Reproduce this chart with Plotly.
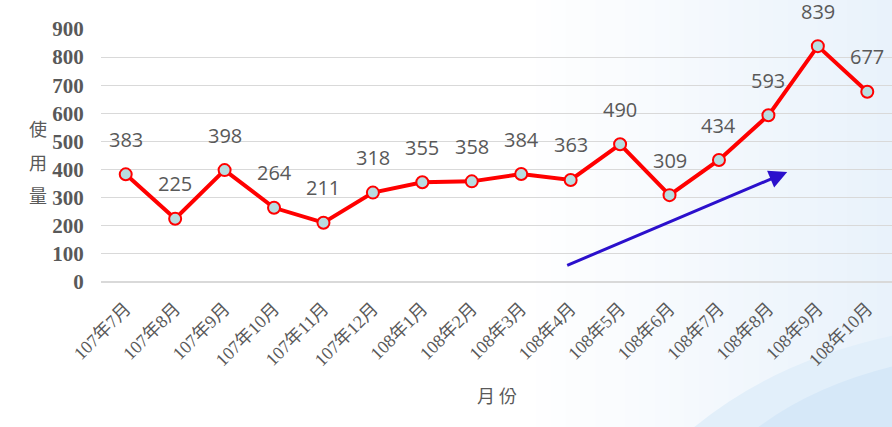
import plotly.graph_objects as go

months = ["107年7月", "107年8月", "107年9月", "107年10月", "107年11月", "107年12月",
          "108年1月", "108年2月", "108年3月", "108年4月", "108年5月", "108年6月",
          "108年7月", "108年8月", "108年9月", "108年10月"]
usage = [383, 225, 398, 264, 211, 318, 355, 358, 384, 363, 490, 309, 434, 593, 839, 677]
y_ticks = [0, 100, 200, 300, 400, 500, 600, 700, 800, 900]

fig = go.Figure()

# light blue wash toward the right edge (decorative background)
n = 24
for i in range(n):
    t = (i + 1) / n
    x0 = 0.55 + 0.45 * i / n
    r = int(round(255 - 22 * t))
    g = int(round(255 - 13 * t))
    b = int(round(255 - 4 * t))
    fig.add_shape(type="rect", xref="paper", yref="paper", x0=x0, x1=1.02,
                  y0=-0.6, y1=1.15, fillcolor=f"rgb({r},{g},{b})",
                  line_width=0, layer="below")
# swoosh in the lower right corner
fig.add_shape(type="path", xref="paper", yref="paper",
              path="M 0.74,-0.6 Q 0.85,-0.3 1.02,-0.2 L 1.02,-0.6 Z",
              fillcolor="rgb(226,239,250)", line_width=0, layer="below")
fig.add_shape(type="path", xref="paper", yref="paper",
              path="M 0.82,-0.6 Q 0.9,-0.4 1.02,-0.32 L 1.02,-0.6 Z",
              fillcolor="rgb(214,232,248)", line_width=0, layer="below")

fig.add_trace(go.Scatter(
    x=months, y=usage, mode="lines+markers",
    line=dict(color="#FF0000", width=4),
    marker=dict(size=12, color="#B9DDE0", line=dict(color="#FF0000", width=2)),
    cliponaxis=False, hoverinfo="x+y",
))

for m, v in zip(months, usage):
    fig.add_annotation(x=m, y=v, text=str(v), showarrow=False, yshift=35,
                       font=dict(family="Open Sans, Liberation Sans", size=20, color="#595959"))

# trend arrow
fig.add_annotation(x=13.38, y=391, ax=8.9, ay=57, xref="x", yref="y", axref="x", ayref="y",
                   text="", showarrow=True, arrowhead=2, arrowsize=1.2, arrowwidth=3,
                   arrowcolor="#2B10CC")

for ch, yp in zip(["使", "用", "量"], [0.609, 0.474, 0.344]):
    fig.add_annotation(x=-0.094, y=yp, xref="paper", yref="paper", text=ch,
                       showarrow=False, font=dict(family="Noto Sans CJK TC", size=18, color="#595959"))
fig.add_annotation(x=0.5, y=-0.506, xref="paper", yref="paper", text="月 份",
                   showarrow=False, font=dict(family="Noto Sans CJK TC", size=18, color="#595959"))

fig.update_layout(
    width=892, height=427,
    margin=dict(l=101, r=0, t=29, b=145),
    paper_bgcolor="white", plot_bgcolor="rgba(0,0,0,0)",
    showlegend=False,
    xaxis=dict(range=[-0.5, 15.5], showgrid=False, tickangle=-45, ticks="outside", ticklen=8,
               automargin=False, tickcolor="rgba(0,0,0,0)", showline=False, zeroline=False,
               tickfont=dict(family="Liberation Serif, Noto Sans CJK TC", size=18, color="#595959")),
    yaxis=dict(range=[0, 900], tickvals=y_ticks, showgrid=True, gridcolor="#D9D9D9",
               gridwidth=1, zeroline=True, zerolinecolor="#D9D9D9", showline=False,
               automargin=False, ticks="outside", ticklen=12, tickcolor="rgba(0,0,0,0)",
               tickfont=dict(family="Liberation Serif", size=21, color="#595959", weight="bold")),
)

fig.write_html("out.html", config={"displayModeBar": False},
               post_script="document.body.style.margin='0';document.body.style.overflow='hidden';")
